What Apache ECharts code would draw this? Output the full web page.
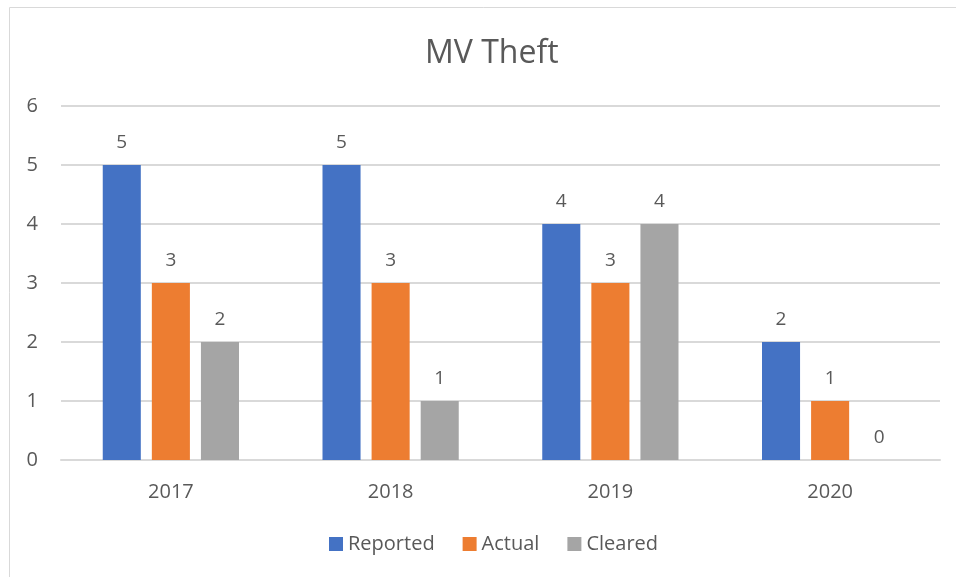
<!DOCTYPE html>
<html>
<head>
<meta charset="utf-8">
<script src="https://cdn.jsdelivr.net/npm/echarts@6/dist/echarts.min.js"></script>
<style>
  html, body { margin: 0; padding: 0; background: #fff; }
  #main { width: 956px; height: 577px; }
</style>
</head>
<body>
<div id="main"></div>
<script>
var years = ['2017', '2018', '2019', '2020'];
var reported = [5, 5, 4, 2];
var actual = [3, 3, 3, 1];
var cleared = [2, 1, 4, 0];

var txt = '#595959';
var font = '"Open Sans", "Noto Sans", sans-serif';

function bar(name, data, color) {
  return {
    name: name,
    type: 'bar',
    data: data,
    barGap: '29%',
    barCategoryGap: '38%',
    itemStyle: { color: color },
    label: {
      show: true,
      position: 'top',
      distance: 13,
      color: txt,
      fontSize: 19,
      fontFamily: font
    }
  };
}

var myChart = echarts.init(document.getElementById('main'));
var option = {
  animation: false,
  textStyle: { fontFamily: font },
  graphic: [{
    type: 'rect',
    shape: { x: 9.5, y: 7.5, width: 1000, height: 1000 },
    style: { fill: 'none', stroke: '#d9d9d9', lineWidth: 1 },
    silent: true
  }],
  title: {
    text: 'MV Theft',
    left: 420,
    top: 33,
    textStyle: { color: txt, fontSize: 32, fontWeight: 'normal', fontFamily: font }
  },
  legend: {
    bottom: 18,
    left: 324,
    itemWidth: 14,
    itemHeight: 14,
    itemGap: 28,
    icon: 'rect',
    textStyle: { color: txt, fontSize: 20, fontFamily: font },
    data: ['Reported', 'Actual', 'Cleared']
  },
  grid: { left: 61, right: 16, top: 106, bottom: 117, containLabel: false },
  xAxis: {
    type: 'category',
    data: years,
    axisTick: { show: false },
    axisLine: { lineStyle: { color: '#d9d9d9', width: 2 } },
    axisLabel: { color: txt, fontSize: 20, margin: 22, fontFamily: font }
  },
  yAxis: {
    type: 'value',
    min: 0,
    max: 6,
    interval: 1,
    axisLine: { show: false },
    axisTick: { show: false },
    splitLine: { lineStyle: { color: '#d9d9d9', width: 2 } },
    axisLabel: { color: txt, fontSize: 20, margin: 23, fontFamily: font }
  },
  series: [
    bar('Reported', reported, '#4472c4'),
    bar('Actual', actual, '#ed7d31'),
    bar('Cleared', cleared, '#a5a5a5')
  ]
};
myChart.setOption(option);
</script>
</body>
</html>
